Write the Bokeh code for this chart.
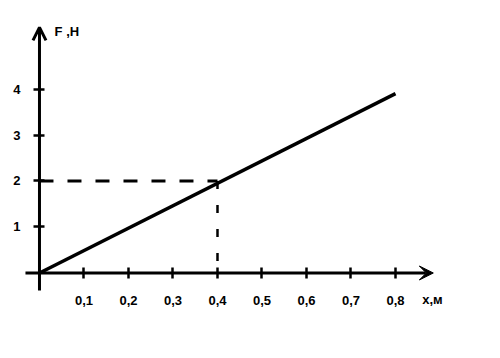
from bokeh.plotting import figure
from bokeh.models import Range1d, FixedTicker, LinearAxis, Arrow, OpenHead, VeeHead
from bokeh.core.properties import value
from bokeh.embed import file_html
from bokeh.resources import INLINE

# data
x_ticks = [0.1, 0.2, 0.3, 0.4, 0.5, 0.6, 0.7, 0.8]
x_tick_labels = ["0,1", "0,2", "0,3", "0,4", "0,5", "0,6", "0,7", "0,8"]
y_ticks = [1, 2, 3, 4]
y_tick_labels = ["1", "2", "3", "4"]
line_x = [0.0, 0.8]
line_F = [0.0, 3.9]
point_x = 0.4
point_F = 2.0

FONT = "Liberation Sans"

p = figure(width=484, height=342, output_backend="svg", toolbar_location=None,
           x_range=Range1d(-0.0876, 1.0), y_range=Range1d(-1.511, 5.924),
           x_axis_type=None, y_axis_type=None, min_border=0)
p.outline_line_color = None
p.xgrid.visible = False
p.ygrid.visible = False
p.background_fill_color = "white"
p.border_fill_color = "white"

# axes placed at the origin
xax = LinearAxis(ticker=FixedTicker(ticks=x_ticks), fixed_location=0)
xax.major_label_overrides = {t: l for t, l in zip(x_ticks, x_tick_labels)}
xax.axis_line_color = None
xax.major_tick_in = 5
xax.major_tick_out = 6
xax.major_tick_line_width = 2.5
xax.major_tick_line_color = "black"
xax.minor_tick_line_color = None
xax.major_label_standoff = 17
xax.major_label_text_font = FONT
xax.major_label_text_font_style = "bold"
xax.major_label_text_font_size = "13px"
xax.major_label_text_color = "black"
p.add_layout(xax, "below")

yax = LinearAxis(ticker=FixedTicker(ticks=y_ticks), fixed_location=0)
yax.major_label_overrides = {t: l for t, l in zip(y_ticks, y_tick_labels)}
yax.axis_line_color = None
yax.major_tick_in = 5
yax.major_tick_out = 6
yax.major_tick_line_width = 2.5
yax.major_tick_line_color = "black"
yax.minor_tick_line_color = None
yax.major_label_standoff = 13
yax.major_label_text_font = FONT
yax.major_label_text_font_style = "bold"
yax.major_label_text_font_size = "13px"
yax.major_label_text_color = "black"
p.add_layout(yax, "left")

# axis arrows
p.add_layout(Arrow(end=VeeHead(size=14, fill_color="black", line_color="black", line_width=1),
                   x_start=-0.0315, y_start=0, x_end=0.885, y_end=0,
                   line_width=3, line_color="black"))
p.add_layout(Arrow(end=OpenHead(size=13, line_color="black", line_width=3),
                   x_start=0, y_start=-0.38, x_end=0, y_end=5.34,
                   line_width=3, line_color="black"))

# dashed guides
p.line([0, point_x], [point_F, point_F], line_color="black", line_width=3, line_dash="14 14")
p.line([point_x, point_x], [point_F, 0], line_color="black", line_width=2.5, line_dash="8 16")

# main line
p.line(line_x, line_F, line_color="black", line_width=3.5)

# axis names
p.text(x=[0.034], y=[5.25], text=["F ,Н"], text_font=value(FONT), text_font_style="bold",
       text_font_size="13px", text_baseline="middle", text_align="left", text_color="black")
p.text(x=[0.883], y=[-0.58], text=["x,м"], text_font=value(FONT), text_font_style="bold",
       text_font_size="13px", text_baseline="middle", text_align="center", text_color="black")

open("out.html", "w").write(file_html(p, INLINE))
